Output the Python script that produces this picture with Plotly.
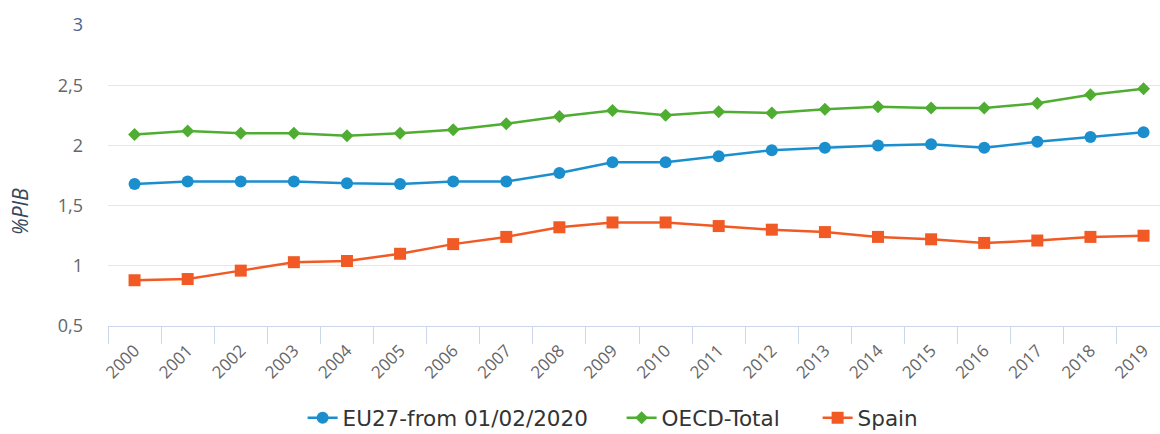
import plotly.graph_objects as go

years = [str(y) for y in range(2000, 2020)]
eu27 = [1.68, 1.70, 1.70, 1.70, 1.685, 1.68, 1.70, 1.70, 1.77, 1.86,
        1.86, 1.91, 1.96, 1.98, 2.00, 2.01, 1.98, 2.03, 2.07, 2.11]
oecd = [2.09, 2.12, 2.10, 2.10, 2.08, 2.10, 2.13, 2.18, 2.24, 2.29,
        2.25, 2.28, 2.27, 2.30, 2.32, 2.31, 2.31, 2.35, 2.42, 2.47]
spain = [0.88, 0.89, 0.96, 1.03, 1.04, 1.10, 1.18, 1.24, 1.32, 1.36,
         1.36, 1.33, 1.30, 1.28, 1.24, 1.22, 1.19, 1.21, 1.24, 1.25]
y_tick_vals = [0.5, 1, 1.5, 2, 2.5, 3]
y_tick_text = ["0,5", "1", "1,5", "2", "2,5", "<span style='color:#4a6491'>3</span>"]

series_names = ["EU27-from 01/02/2020", "OECD-Total", "Spain"]
colors = ["#1b8fce", "#4fae32", "#f15a24"]
symbols = ["circle", "diamond", "square"]
sizes = [12, 10, 12]
legend_widths = [274, 151, 62]

fig = go.Figure()
for name, vals, c, s, sz, lw in zip(series_names, [eu27, oecd, spain], colors, symbols, sizes, legend_widths):
    fig.add_trace(go.Scatter(
        x=years, y=vals, name=name, mode="lines+markers",
        line=dict(color=c, width=2.5),
        marker=dict(symbol=s, size=sz, color=c),
        legendwidth=lw,
    ))

fig.add_annotation(
    text="<i>%PIB</i>", xref="paper", yref="paper", x=-0.0837, y=0.382,
    xanchor="center", yanchor="middle", textangle=-90, showarrow=False,
    font=dict(family="Open Sans, sans-serif", size=21, color="#34495e"),
)

fig.update_layout(
    width=1160, height=434,
    margin=dict(l=108, r=0, t=25, b=108, autoexpand=False),
    paper_bgcolor="white", plot_bgcolor="white",
    separators=", ",
    font=dict(family="Open Sans, sans-serif", color="#666666", size=17),
    showlegend=True,
    legend=dict(orientation="h", x=0.185, xanchor="left", y=-0.237, yanchor="top",
                font=dict(family="DejaVu Sans, sans-serif", size=21.5, color="#333333"),
                itemwidth=30, traceorder="normal", bgcolor="rgba(0,0,0,0)"),
    xaxis=dict(
        type="category", range=[-0.5, 19.31], automargin=False,
        tickangle=-45, tickfont=dict(size=17, color="#666666"),
        showgrid=False, showline=True, linecolor="#ccd6eb", linewidth=1,
        ticks="outside", tickson="boundaries", ticklen=17, tickcolor="#ccd6eb",
        ticklabelstandoff=7,
    ),
    yaxis=dict(
        range=[0.5, 3], tickvals=y_tick_vals, ticktext=y_tick_text, automargin=False,
        showgrid=True, gridcolor="#e6e6e6", gridwidth=1, zeroline=False,
        tickfont=dict(size=18, color="#666666"), ticklabelstandoff=24,
    ),
)

fig.write_html("out.html", config={"displayModeBar": False},
               post_script="document.body.style.margin='0';")
